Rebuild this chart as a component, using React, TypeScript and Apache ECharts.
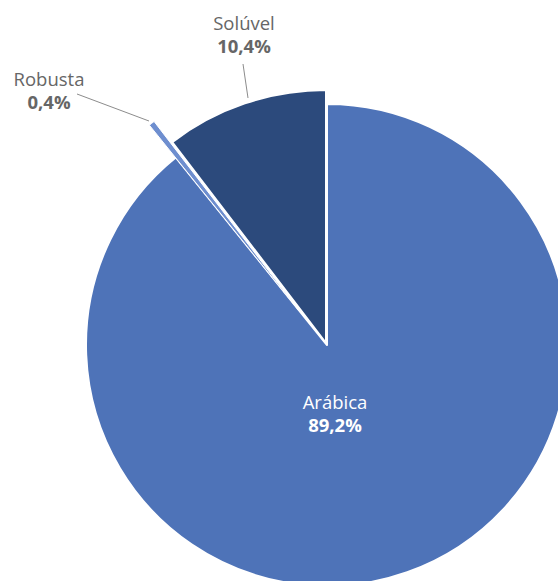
import React, { useEffect, useRef } from 'react';
import * as echarts from 'echarts';

// ---- data ----
const categories: string[] = ['Arábica', 'Robusta', 'Solúvel'];
const shares: number[] = [89.2, 0.4, 10.4];

// ---- styles ----
const sliceColors = ['#4E73B8', '#6E8ECF', '#2C4A7C'];
const labelGray = '#666666';
const FONT = '"Open Sans", "Noto Sans", sans-serif';

// geometry for each slice's own pie series (index matches categories)
const sliceGeom = [
  { center: [327, 345], radius: 241, border: 2 },
  { center: [300, 312], radius: 240, border: 1 },
  { center: [326, 343], radius: 253, border: 2 },
];

const labelPlacement: any[] = [
  { x: 335, y: 413, position: 'inside', color: '#ffffff', line: null },
  {
    x: 49, y: 90, position: 'outside', color: labelGray,
    line: [[149, 121], [113, 107.5], [77, 94]],
  },
  {
    x: 244, y: 34, position: 'outside', color: labelGray,
    line: [[248, 98], [245.5, 81], [243, 64]],
  },
];

const fmt = (v: number) => v.toFixed(1).replace('.', ',') + '%';

function buildSeries() {
  return categories.map((_, si) => {
    const g = sliceGeom[si];
    const lp = labelPlacement[si];
    return {
      type: 'pie',
      silent: true,
      center: g.center,
      radius: [0, g.radius],
      startAngle: 90,
      clockwise: true,
      avoidLabelOverlap: false,
      emphasis: { disabled: true },
      z: si === 2 ? 3 : si === 1 ? 2 : 1,
      labelLayout: {
        x: lp.x,
        y: lp.y,
        align: 'center',
        verticalAlign: 'middle',
        ...(lp.line ? { labelLinePoints: lp.line } : {}),
      },
      data: categories.map((name, di) => {
        const visible = di === si;
        return {
          name,
          value: shares[di],
          itemStyle: visible
            ? { color: sliceColors[di], borderColor: '#ffffff', borderWidth: g.border }
            : { color: 'rgba(0,0,0,0)', borderWidth: 0 },
          label: visible
            ? {
                show: true,
                position: lp.position,
                formatter: (p: any) => `{n|${p.name}}\n{v|${fmt(p.value)}}`,
                rich: {
                  n: { fontFamily: FONT, fontSize: 18.5, lineHeight: 23.5, color: lp.color },
                  v: { fontFamily: FONT, fontSize: 18.5, fontWeight: 'bold', lineHeight: 23.5, color: lp.color },
                },
              }
            : { show: false },
          labelLine: visible && lp.line
            ? { show: true, lineStyle: { color: '#8c8c8c', width: 1 } }
            : { show: false },
        };
      }),
    };
  });
}

export default function App() {
  const ref = useRef<HTMLDivElement>(null);
  useEffect(() => {
    if (!ref.current) return;
    const chart = echarts.init(ref.current, undefined, { renderer: 'svg' });
    chart.setOption({
      animation: false,
      backgroundColor: '#ffffff',
      series: buildSeries(),
    } as any);
    return () => chart.dispose();
  }, []);
  return (
    <div
      ref={ref}
      style={{ position: 'absolute', left: 0, top: 0, width: 558, height: 581 }}
    />
  );
}
